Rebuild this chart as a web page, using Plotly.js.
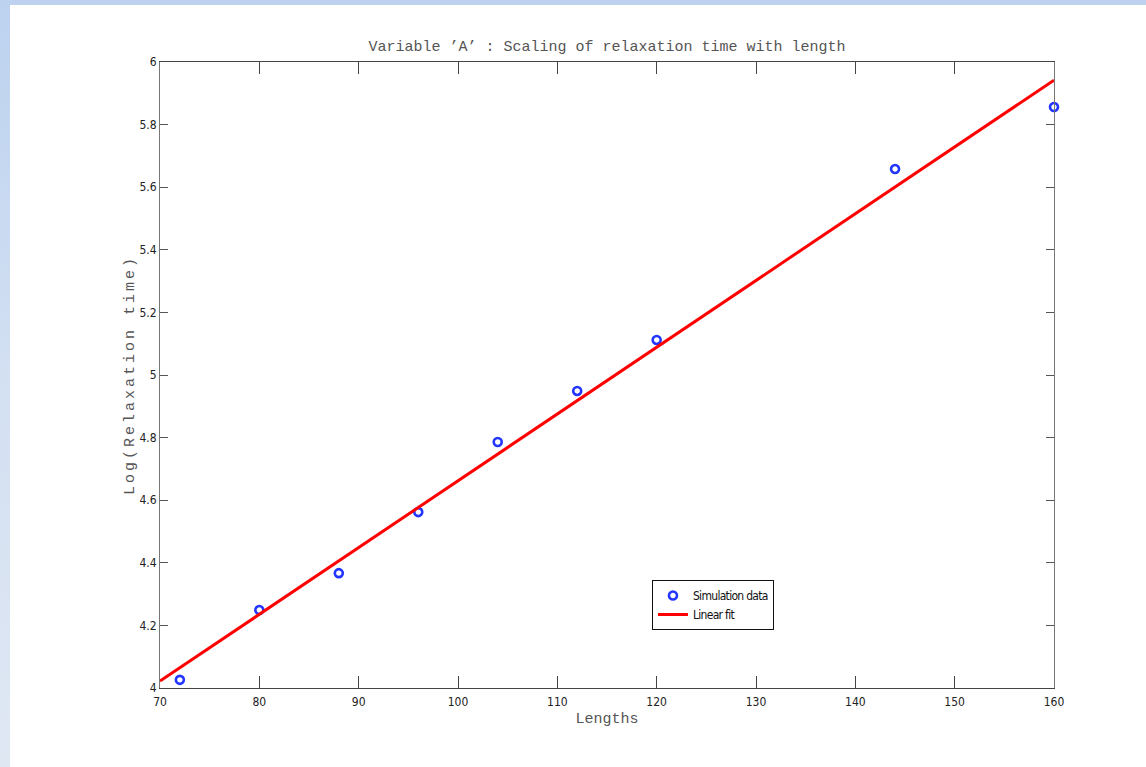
<!DOCTYPE html>
<html>
<head>
<meta charset="utf-8">
<script src="https://cdn.plot.ly/plotly-3.0.1.min.js"></script>
<style>
  html, body { margin: 0; padding: 0; }
  body {
    width: 1146px; height: 767px; overflow: hidden;
    background: linear-gradient(to bottom, #bcd2ef 0%, #d3e0f2 50%, #dfe7f3 100%);
    position: relative;
  }
  #panel {
    position: absolute; left: 10px; top: 5px; right: 0; bottom: 0;
    background: #ffffff;
  }
  #chart { position: absolute; left: 0; top: 0; width: 1146px; height: 767px; }
  .ytitle { letter-spacing: 3px; }
  .legendtext { letter-spacing: -0.7px; }
</style>
</head>
<body>
<div id="panel"></div>
<div id="chart"></div>
<script>
// Chain lengths and log relaxation times from the simulations
const lengths = [72, 80, 88, 96, 104, 112, 120, 144, 160];
const logRelaxation = [4.026, 4.249, 4.367, 4.562, 4.786, 4.949, 5.112, 5.658, 5.856];

// End points of the linear fit over the axis range
const fitLengths = [70, 160];
const fitValues = [4.022, 5.942];

const xTicks = [70, 80, 90, 100, 110, 120, 130, 140, 150, 160];
const yTicks = [4, 4.2, 4.4, 4.6, 4.8, 5, 5.2, 5.4, 5.6, 5.8, 6];

const narrow = 'DejaVu Sans Condensed, Liberation Sans Narrow, Arial Narrow, sans-serif';
const tickFont = { family: narrow, size: 12, color: '#222' };
const monoFont = { family: 'Liberation Mono, Courier New, monospace', size: 15, color: '#555' };

const traces = [
  {
    x: lengths, y: logRelaxation,
    type: 'scatter', mode: 'markers', name: 'Simulation data',
    marker: { symbol: 'circle-open', size: 8, color: '#2336ff', line: { width: 2.6, color: '#2336ff' } },
    cliponaxis: false
  },
  {
    x: fitLengths, y: fitValues,
    type: 'scatter', mode: 'lines', name: 'Linear fit',
    line: { color: '#ff0000', width: 3 }
  }
];

const layout = {
  width: 1146, height: 767,
  paper_bgcolor: 'rgba(0,0,0,0)', plot_bgcolor: 'rgba(0,0,0,0)',
  margin: { l: 160, r: 92, t: 62, b: 79, pad: 0 },
  showlegend: true,
  title: { text: 'Variable ’A’ : Scaling of relaxation time with length', font: monoFont,
           x: 0.5, xref: 'paper', xanchor: 'center', y: 1, yref: 'paper', yanchor: 'bottom', pad: { b: 11 } },
  xaxis: {
    range: [70, 160], tickvals: xTicks, ticktext: xTicks.map(String),
    ticks: 'inside', ticklen: 12, tickwidth: 1, tickcolor: '#444',
    showline: true, linecolor: '#444', linewidth: 1, mirror: 'ticks',
    showgrid: false, zeroline: false, tickfont: tickFont, ticklabelstandoff: 3,
    title: { text: 'Lengths', font: monoFont, standoff: 4 }
  },
  yaxis: {
    range: [4, 6], tickvals: yTicks, ticktext: yTicks.map(v => String(v)),
    ticks: 'inside', ticklen: 8, tickwidth: 1, tickcolor: '#555',
    showline: true, linecolor: '#777', linewidth: 1, mirror: 'ticks',
    showgrid: false, zeroline: false, tickfont: tickFont,
    title: { text: 'Log(Relaxation time)', font: monoFont, standoff: 0 }
  },
  legend: {
    x: 0.5503, y: 0.1725, xanchor: 'left', yanchor: 'top',
    bgcolor: '#ffffff', bordercolor: '#111', borderwidth: 1,
    font: { family: narrow, size: 12, color: '#111' },
    tracegroupgap: 0
  }
};

Plotly.newPlot('chart', traces, layout, { displayModeBar: false, staticPlot: true });
</script>
</body>
</html>
